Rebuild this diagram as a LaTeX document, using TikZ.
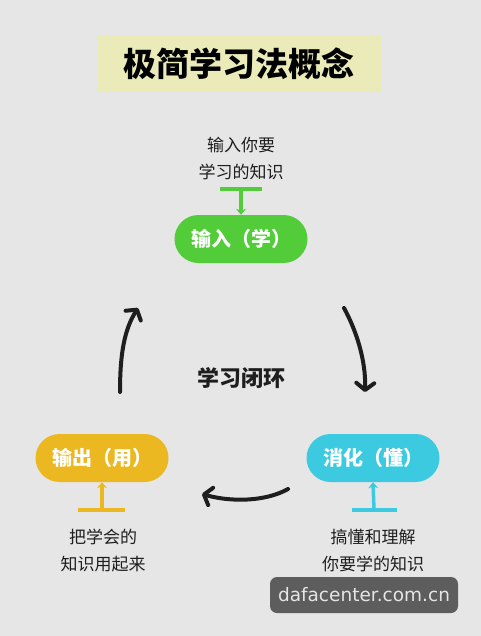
\documentclass[tikz,border=0pt]{standalone}
\usepackage{fontspec}
\setmainfont{Noto Sans CJK SC}
\newfontfamily\latinfont{DejaVu Sans}
\usetikzlibrary{arrows.meta}
\definecolor{bg}{HTML}{E6E6E6}
\definecolor{titlebg}{HTML}{EBEBBA}
\definecolor{learngreen}{HTML}{52CC38}
\definecolor{usegold}{HTML}{EBB822}
\definecolor{digestcyan}{HTML}{3CCAE0}
\definecolor{markgray}{HTML}{5D5D5D}
\definecolor{inkdark}{HTML}{1E1E1E}
\tikzset{
  pill/.style={rectangle, rounded corners=24pt, minimum width=133pt, minimum height=48pt,
    inner sep=0pt, text=white, font=\bfseries\fontsize{20}{20}\selectfont},
  note/.style={align=center, text=inkdark, font=\fontsize{17}{27}\selectfont},
  tee/.style={line width=3.5pt},
  stem/.style={line width=3.5pt, -{Stealth[length=6pt,width=10pt]}},
  cycle/.style={line width=4pt, line cap=round, draw=inkdark,
    -{Straight Barb[length=7pt,width=18pt,line cap=round,line join=round]}},
}
\begin{document}
\begin{tikzpicture}[x=1pt,y=-1pt]
\useasboundingbox (0,0) rectangle (481,636);
\fill[bg] (0,0) rectangle (481,636);

% title banner
\node[fill=titlebg, minimum width=284pt, minimum height=56pt, inner sep=0pt,
      font=\bfseries\fontsize{33}{33}\selectfont] (title) at (239,64) {极简学习法概念};

% three stages
\node[pill, fill=learngreen] (learn) at (241,239) {输入（学）};
\node[pill, fill=usegold] (use) at (102,458) {输出（用）};
\node[pill, fill=digestcyan] (digest) at (373,458) {消化（懂）};

% descriptions
\node[note] (learnnote) at (241,159) {输入你要\\学习的知识};
\node[note] (usenote) at (103,551) {把学会的\\知识用起来};
\node[note] (digestnote) at (373,551) {搞懂和理解\\你要学的知识};

% T-shaped feeders
\coordinate (learnbar) at (241,189);
\draw[tee, learngreen] (220,189) -- (262,189);
\draw[stem, learngreen] (learnbar) -- (learn.north);
\coordinate (usebar) at (102,510);
\draw[tee, usegold] (78,510) -- (125,510);
\draw[stem, usegold] (usebar) -- (use.south);
\coordinate (digestbar) at (374,510);
\draw[tee, digestcyan] (352,510) -- (397,510);
\draw[stem, digestcyan] (digestbar) -- (digest.south);

% loop label
\node[font=\bfseries\fontsize{22}{22}\selectfont, text=inkdark] (loop) at (241,378) {学习闭环};

% loop arrows
\coordinate (a1s) at (344,308);
\coordinate (a1e) at (365,392);
\coordinate (a2s) at (288,489);
\coordinate (a2e) at (202,494);
\coordinate (a3s) at (120,392);
\coordinate (a3e) at (138,308);
\draw[cycle] (a1s) .. controls (356,330) and (366,360) .. (a1e);
\draw[cycle] (a2s) .. controls (265,502) and (230,502) .. (a2e);
\draw[cycle] (a3s) .. controls (120,355) and (124,330) .. (a3e);

% site mark
\node[fill=markgray, rounded corners=7pt, minimum width=188pt, minimum height=36pt,
      inner sep=0pt, text=white!90!black, font=\latinfont\fontsize{18.5}{18.5}\selectfont]
      (site) at (364,595) {dafacenter.com.cn};
\end{tikzpicture}
\end{document}
